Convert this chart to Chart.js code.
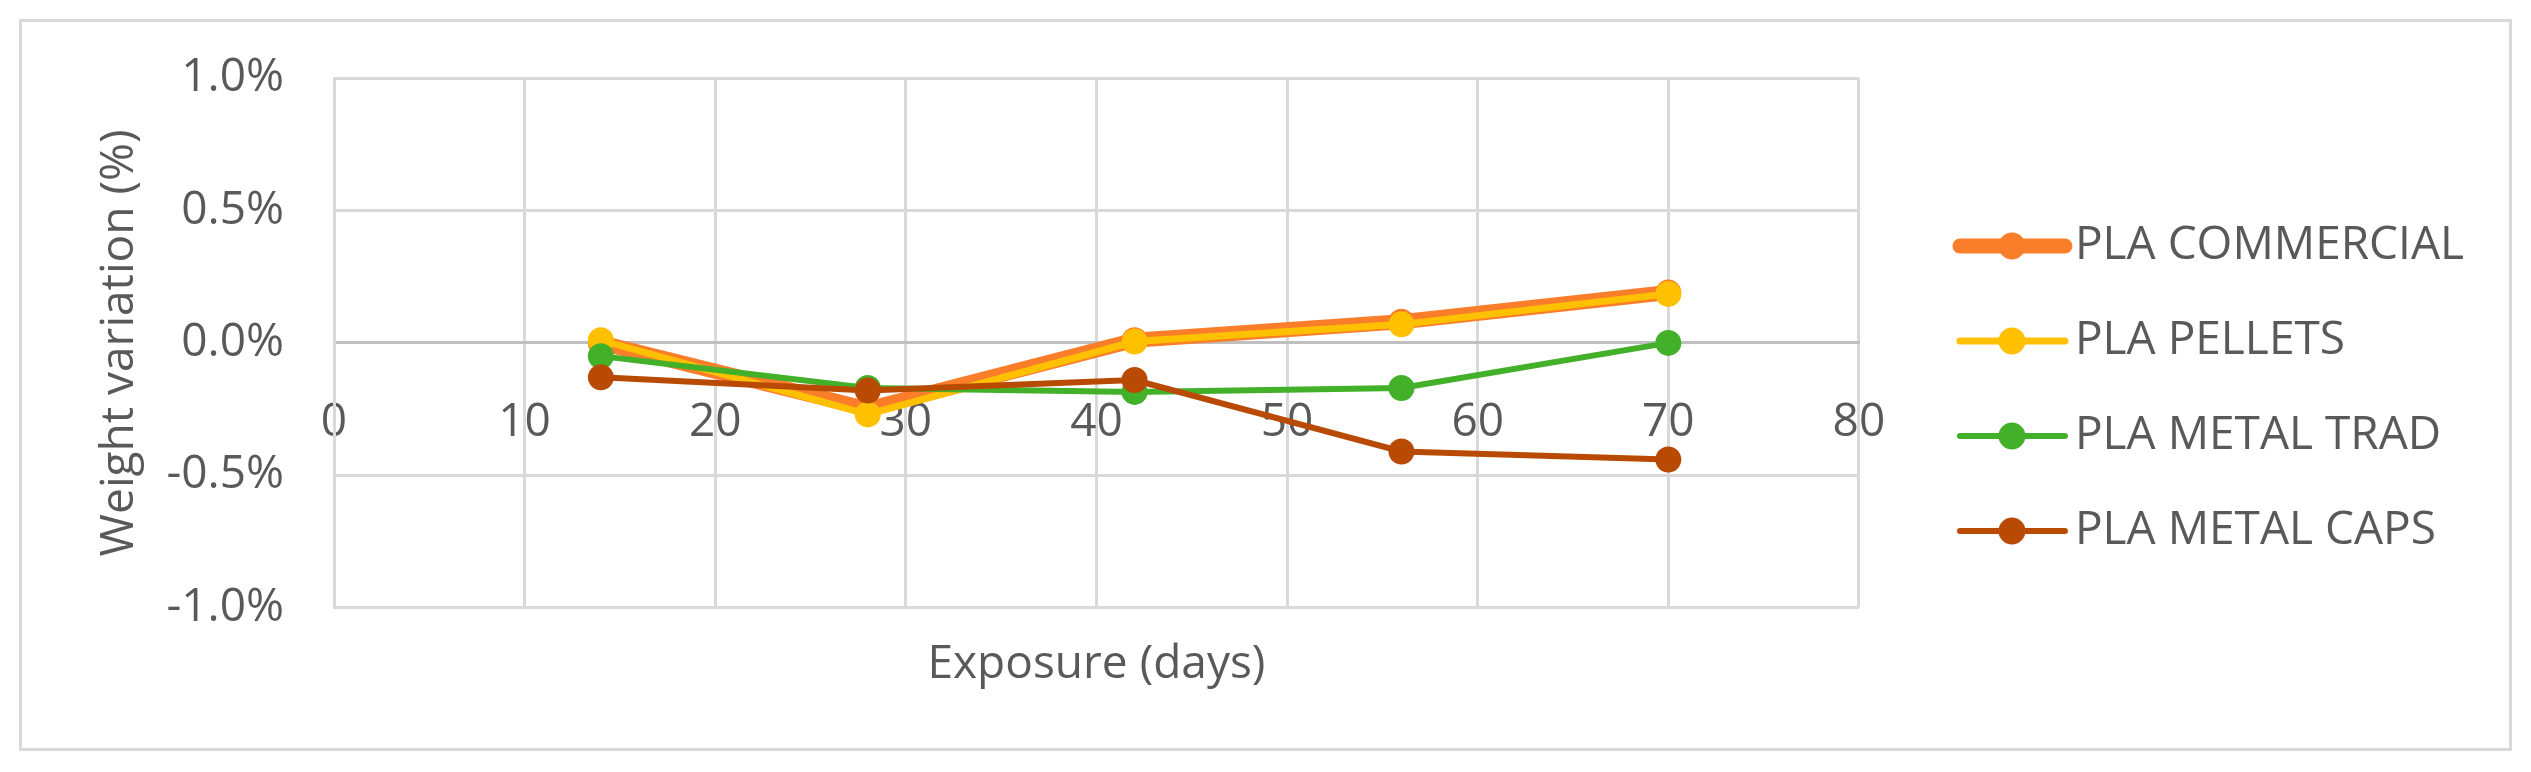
<!DOCTYPE html>
<html>
<head>
<meta charset="utf-8">
<script src="https://cdn.jsdelivr.net/npm/chart.js@4.4.1/dist/chart.umd.min.js"></script>
<style>
  html, body { margin: 0; padding: 0; background: #fff; }
  #frame { position: absolute; left: 19px; top: 19px; width: 2487px; height: 726px; border: 3px solid #D9D9D9; }
  #chart { position: absolute; left: 0; top: 0; }
</style>
</head>
<body>
<div id="frame"></div>
<canvas id="chart" width="2531" height="772"></canvas>
<script>
// exposure days and weight variation (%)
const exposureDays = [14, 28, 42, 56, 70]
const seriesNames = ['PLA COMMERCIAL', 'PLA PELLETS', 'PLA METAL TRAD', 'PLA METAL CAPS']
const plaCommercial = [0.00, -0.25, 0.01, 0.08, 0.19]
const plaPellets = [0.01, -0.27, 0.005, 0.07, 0.185]
const plaMetalTrad = [-0.05, -0.17, -0.185, -0.17, 0.00]
const plaMetalCaps = [-0.13, -0.18, -0.14, -0.41, -0.44]
const xTicks = [0, 10, 20, 30, 40, 50, 60, 70, 80]
const yTicks = [-1.0, -0.5, 0.0, 0.5, 1.0]

const colors = ['#FA7D2A', '#FFC000', '#43B02A', '#B94A04']
const lineWidths = [15, 7, 6, 6]

Chart.defaults.font.family = "'Open Sans', sans-serif"
Chart.defaults.font.size = 46
Chart.defaults.color = '#595959'

// legend sample: short line with a dot in the middle
function legendIcon(color, width) {
  const c = document.createElement('canvas')
  c.width = 200
  c.height = 32
  const ctx = c.getContext('2d')
  ctx.strokeStyle = color
  ctx.lineWidth = width
  ctx.lineCap = 'round'
  ctx.beginPath()
  ctx.moveTo(80, 16)
  ctx.lineTo(185, 16)
  ctx.stroke()
  ctx.fillStyle = color
  ctx.beginPath()
  ctx.arc(132, 16, 13.5, 0, Math.PI * 2)
  ctx.fill()
  return c
}

const legendIcons = colors.map((c, i) => legendIcon(c, lineWidths[i]))

const seriesValues = [plaCommercial, plaPellets, plaMetalTrad, plaMetalCaps]

const datasets = seriesValues.map((values, i) => ({
  label: seriesNames[i],
  data: exposureDays.map((d, j) => ({ x: d, y: values[j] })),
  borderColor: colors[i],
  backgroundColor: colors[i],
  borderWidth: lineWidths[i],
  pointRadius: 13,
  pointBorderWidth: 0,
  pointBackgroundColor: colors[i],
  tension: 0,
  order: 4 - i
}))

new Chart(document.getElementById('chart'), {
  type: 'line',
  data: { datasets },
  options: {
    responsive: false,
    devicePixelRatio: 1,
    animation: false,
    layout: { padding: { left: 88, top: 78, right: 57, bottom: 80 } },
    scales: {
      x: {
        type: 'linear',
        position: { y: 0 },
        min: 0,
        max: 80,
        afterBuildTicks: (s) => { s.ticks = xTicks.map(v => ({ value: v })) },
        ticks: { padding: 52, color: '#595959' },
        grid: { color: '#D9D9D9', lineWidth: 3, drawTicks: false },
        border: { color: '#BFBFBF', width: 3 }
      },
      xTitle: {
        type: 'linear',
        axis: 'x',
        position: 'bottom',
        min: 0,
        max: 80,
        ticks: { display: false },
        grid: { display: false },
        border: { display: false },
        title: { display: true, text: 'Exposure (days)', color: '#595959', padding: { top: 21, bottom: 0 } }
      },
      y: {
        min: -1,
        max: 1,
        afterBuildTicks: (s) => { s.ticks = yTicks.map(v => ({ value: v })) },
        afterFit: (s) => { s.width = 246 },
        ticks: {
          padding: 50,
          color: '#595959',
          callback: (v) => v.toFixed(1) + '%'
        },
        grid: {
          color: (ctx) => ctx.tick && ctx.tick.value === 0 ? '#BFBFBF' : '#D9D9D9',
          lineWidth: 3,
          drawTicks: false
        },
        border: { color: '#D9D9D9', width: 3 },
        title: { display: true, text: 'Weight variation (%)', color: '#595959' }
      }
    },
    plugins: {
      tooltip: { enabled: false },
      legend: {
        position: 'right',
        align: 'start',
        maxWidth: 620,
        title: { display: true, text: '', font: { size: 10 }, padding: { top: 84, bottom: 0 } },
        labels: {
          usePointStyle: true,
          pointStyleWidth: 144,
          padding: 49,
          color: '#595959',
          generateLabels: (chart) => chart.data.datasets.map((ds, i) => ({
            text: ds.label,
            pointStyle: legendIcons[i],
            datasetIndex: i,
            fontColor: '#595959',
            fillStyle: 'transparent',
            strokeStyle: 'transparent',
            lineWidth: 0,
            hidden: false
          }))
        }
      }
    }
  }
})
</script>
</body>
</html>
